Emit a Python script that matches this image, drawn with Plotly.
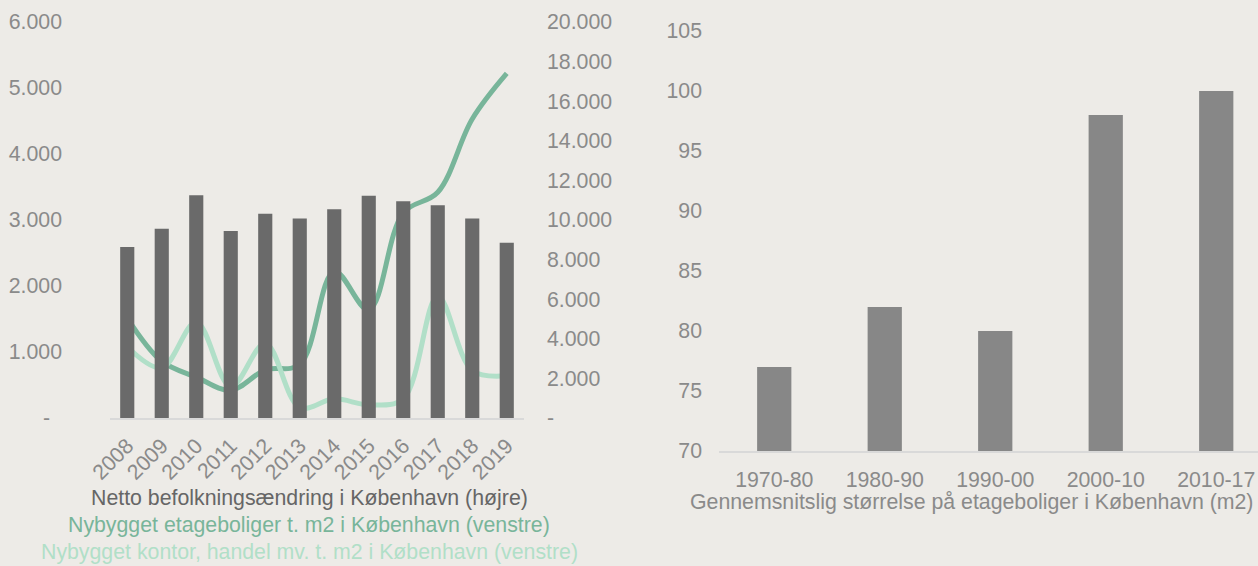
import plotly.graph_objects as go

# ---- data: left chart ----
years = ["2008", "2009", "2010", "2011", "2012", "2013", "2014", "2015", "2016", "2017", "2018", "2019"]
netto_befolkning = [8640, 9560, 11250, 9440, 10320, 10070, 10540, 11220, 10950, 10750, 10070, 8850]
etageboliger = [1515, 860, 620, 420, 730, 810, 2220, 1640, 3110, 3420, 4530, 5220]
kontor_handel = [1080, 760, 1450, 475, 1130, 160, 290, 200, 290, 1840, 720, 640]

left_tickvals = [0, 1000, 2000, 3000, 4000, 5000, 6000]
left_ticktext = ["-\u00a0\u00a0", "1.000", "2.000", "3.000", "4.000", "5.000", "6.000"]
right_tickvals = [0, 2000, 4000, 6000, 8000, 10000, 12000, 14000, 16000, 18000, 20000]
right_ticktext = ["-", "2.000", "4.000", "6.000", "8.000", "10.000", "12.000", "14.000", "16.000", "18.000", "20.000"]

legend_labels = [
    "Netto befolkningsændring i København (højre)",
    "Nybygget etageboliger t. m2 i København (venstre)",
    "Nybygget kontor, handel mv. t. m2 i København (venstre)",
]

# ---- data: right chart ----
perioder = ["1970-80", "1980-90", "1990-00", "2000-10", "2010-17"]
gns_stoerrelse = [77, 82, 80, 98, 100]
size_tickvals = [70, 75, 80, 85, 90, 95, 100, 105]
right_chart_title = "Gennemsnitslig størrelse på etageboliger i København (m2)"

# ---- style ----
BG = "#edebe7"
BAR_DARK = "#6a6a6a"
BAR_MID = "#878787"
GREEN_DARK = "#78b59a"
GREEN_LIGHT = "#b1dfc8"
TICK = "#8a8a8a"
AXIS = "#d9d9d9"
FONT = "Liberation Sans, Arial, sans-serif"
FS = 21.3
W, H = 1258, 566


def px_x(v):
    return v / W


def px_y(v):
    return (H - v) / H


fig = go.Figure()

fig.add_trace(go.Bar(
    x=years, y=netto_befolkning, xaxis="x", yaxis="y2",
    marker=dict(color=BAR_DARK, line=dict(width=0)), showlegend=False,
))
fig.add_trace(go.Scatter(
    x=years, y=etageboliger, xaxis="x", yaxis="y", mode="lines",
    line=dict(color=GREEN_DARK, width=5, shape="spline", smoothing=1.0),
    showlegend=False,
))
fig.add_trace(go.Scatter(
    x=years, y=kontor_handel, xaxis="x", yaxis="y", mode="lines",
    line=dict(color=GREEN_LIGHT, width=5, shape="spline", smoothing=1.0),
    showlegend=False,
))
fig.add_trace(go.Bar(
    x=perioder, y=gns_stoerrelse, xaxis="x2", yaxis="y3", width=0.31,
    marker=dict(color=BAR_MID, line=dict(width=0)), showlegend=False,
))

tickfont = dict(family=FONT, size=FS, color=TICK)

fig.update_layout(
    width=W, height=H,
    margin=dict(l=0, r=0, t=0, b=0, autoexpand=False),
    paper_bgcolor=BG, plot_bgcolor=BG,
    font=dict(family=FONT, color=TICK),
    barmode="group",
    bargap=0.59,
    xaxis=dict(
        domain=[px_x(110), px_x(524)], anchor="y", automargin=False,
        type="category", tickangle=-45, tickfont=tickfont,
        showline=True, linecolor=AXIS, linewidth=2,
        showgrid=False, zeroline=False, ticks="", ticklabelstandoff=5,
    ),
    yaxis=dict(
        domain=[px_y(418), px_y(22)], anchor="x", automargin=False,
        range=[0, 6000], tickvals=left_tickvals, ticktext=left_ticktext,
        tickfont=tickfont, showgrid=False, zeroline=False, ticks="",
        ticklabelstandoff=47,
    ),
    yaxis2=dict(
        overlaying="y", side="right", anchor="x", automargin=False,
        range=[0, 20000], tickvals=right_tickvals, ticktext=right_ticktext,
        tickfont=tickfont, showgrid=False, zeroline=False, ticks="",
        ticklabelstandoff=22,
    ),
    xaxis2=dict(
        domain=[px_x(719), 1.0], anchor="y3", automargin=False,
        type="category", range=[-0.5, 4.378], tickfont=tickfont,
        showline=True, linecolor=AXIS, linewidth=2,
        showgrid=False, zeroline=False, ticks="", ticklabelstandoff=8,
    ),
    yaxis3=dict(
        domain=[px_y(451), px_y(31)], anchor="x2", automargin=False,
        range=[70, 105], tickvals=size_tickvals,
        tickfont=tickfont, showgrid=False, zeroline=False, ticks="",
        ticklabelstandoff=16,
    ),
)

legend_colors = ["#666666", GREEN_DARK, GREEN_LIGHT]
legend_y = [498, 525, 552]
for txt, col, yy in zip(legend_labels, legend_colors, legend_y):
    fig.add_annotation(
        x=px_x(309), y=px_y(yy), xref="paper", yref="paper",
        text=txt, showarrow=False, xanchor="center", yanchor="middle",
        font=dict(family=FONT, size=FS, color=col),
    )

fig.add_annotation(
    x=px_x(971), y=px_y(502), xref="paper", yref="paper",
    text=right_chart_title, showarrow=False, xanchor="center", yanchor="middle",
    font=dict(family=FONT, size=FS, color=TICK),
)

fig.write_html(
    "out.html",
    config={"displayModeBar": False},
    post_script="document.body.style.margin='0';document.body.style.background='%s';" % BG,
)
